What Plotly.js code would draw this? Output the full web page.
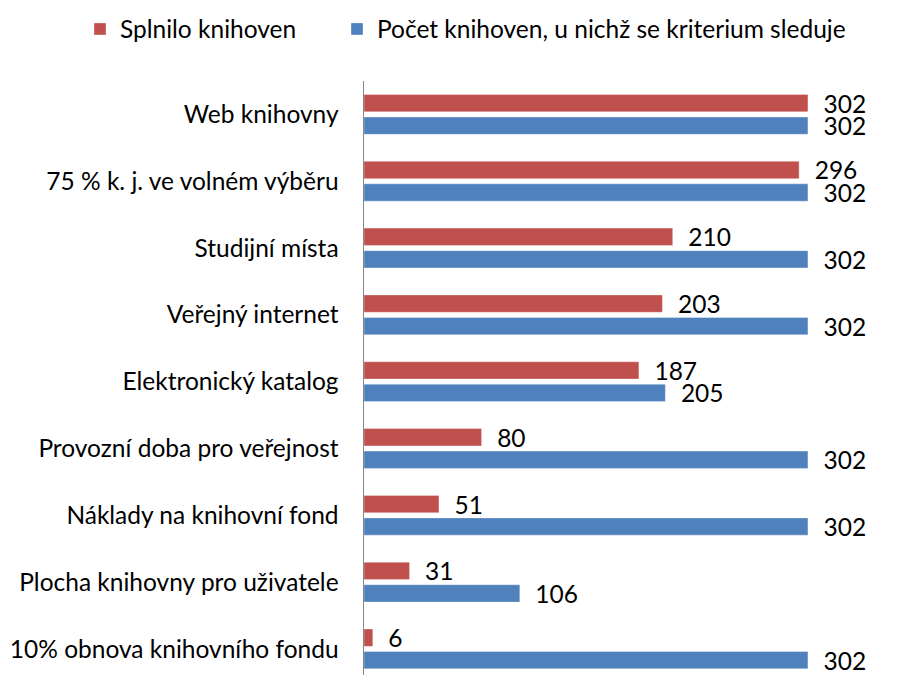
<!DOCTYPE html>
<html>
<head>
<meta charset="utf-8">
<script src="https://cdn.plot.ly/plotly-3.0.1.min.js"></script>
<style>html,body{margin:0;padding:0;overflow:hidden;background:#fff;}</style>
</head>
<body>
<div id="chart" style="width:906px;height:675px;"></div>
<script>
const categories = [
  "Web knihovny",
  "75 % k. j. ve volném výběru",
  "Studijní místa",
  "Veřejný internet",
  "Elektronický katalog",
  "Provozní doba pro veřejnost",
  "Náklady na knihovní fond",
  "Plocha knihovny pro uživatele",
  "10% obnova knihovního fondu"
];
const splnilo = [302, 296, 210, 203, 187, 80, 51, 31, 6];
const sleduje = [302, 302, 302, 302, 205, 302, 302, 106, 302];
const seriesNames = ["Splnilo knihoven", "Počet knihoven, u nichž se kriterium sleduje"];

const FONT = "Lato, 'Open Sans', sans-serif";
const NB = "\u00a0\u00a0";

function barTrace(vals, name, color, legendId) {
  return {
    type: "bar",
    orientation: "h",
    y: categories,
    x: vals,
    name: name,
    legend: legendId,
    marker: {color: color, line: {color: "rgba(255,255,255,0.35)", width: 1}},
    text: vals.map(v => NB + v),
    textposition: "outside",
    textfont: {family: FONT, size: 24.5, color: "#000"},
    constraintext: "none",
    cliponaxis: false,
    hoverinfo: "x+y"
  };
}

const data = [
  barTrace(splnilo, seriesNames[0], "#C0504D", "legend"),
  barTrace(sleduje, seriesNames[1], "#4F81BD", "legend2")
];

function legendBox(xpx) {
  return {
    orientation: "h",
    xref: "container",
    yref: "container",
    x: xpx / 906,
    xanchor: "left",
    y: 1 - 29 / 675,
    yanchor: "middle",
    font: {family: FONT, size: 24.5, color: "#000"},
    itemwidth: 30,
    bgcolor: "rgba(0,0,0,0)"
  };
}

const layout = {
  width: 906,
  height: 675,
  margin: {l: 364, r: 0, t: 81, b: 0, pad: 0},
  paper_bgcolor: "#fff",
  plot_bgcolor: "#fff",
  font: {family: FONT, size: 24.5, color: "#000"},
  barmode: "group",
  bargap: 0.326,
  bargroupgap: 0.23,
  showlegend: true,
  legend: legendBox(80),
  legend2: legendBox(337),
  xaxis: {
    range: [0, 368.7],
    showgrid: false,
    zeroline: false,
    showline: false,
    showticklabels: false,
    ticks: ""
  },
  yaxis: {
    type: "category",
    categoryorder: "array",
    categoryarray: categories,
    range: [8.39, -0.5],
    showgrid: false,
    zeroline: false,
    showline: true,
    linecolor: "#868686",
    linewidth: 1.5,
    ticks: "",
    ticklabelstandoff: 19,
    tickfont: {family: FONT, size: 24.5, color: "#000"}
  }
};

Plotly.newPlot("chart", data, layout, {displayModeBar: false, staticPlot: true});
</script>
</body>
</html>
